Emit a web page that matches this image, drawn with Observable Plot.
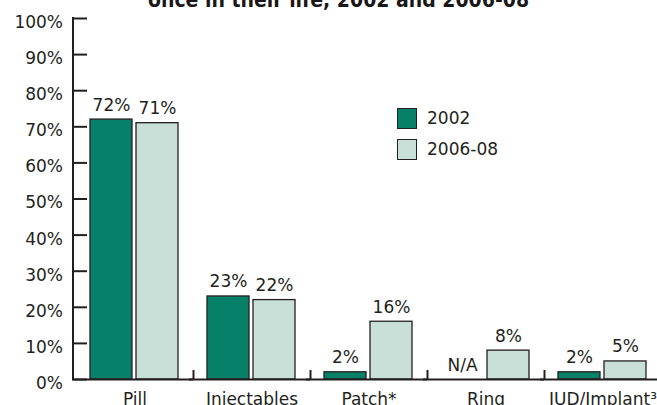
<!DOCTYPE html>
<html>
<head>
<meta charset="utf-8">
<script src="https://cdn.jsdelivr.net/npm/d3@7"></script>
<script src="https://cdn.jsdelivr.net/npm/@observablehq/plot@0.6"></script>
<style>
  html, body { margin: 0; padding: 0; background: #fff; }
  #wrap { position: relative; width: 657px; height: 405px; overflow: hidden; font-family: "DejaVu Sans", sans-serif; color: #231f20; }
  #title { position: absolute; left: 0; width: 677px; top: -10px; text-align: center; font-family: "DejaVu Sans Condensed", "DejaVu Sans", sans-serif; font-stretch: condensed; font-weight: bold; font-size: 21px; line-height: 21px; white-space: nowrap; color: #1a1718; z-index: 2; }
  #chart { position: absolute; left: 0; top: 0; }
  #legend { position: absolute; left: 397px; top: 108px; font-size: 17px; }
  #legend .item { display: flex; align-items: center; height: 20px; margin-bottom: 11px; }
  #legend .sw { width: 18px; height: 19px; border: 1px solid #231f20; margin-right: 10px; box-sizing: content-box; }
</style>
</head>
<body>
<div id="wrap">
  <div id="title">once in their life, 2002 and 2006-08</div>
  <div id="chart"></div>
  <div id="legend"></div>
</div>
<script>
// Contraceptive methods, share of women who ever used each one
const categories = ["Pill", "Injectables", "Patch*", "Ring", "IUD/Implant³"];
const series = ["2002", "2006-08"];
const values2002 = [72, 23, 2, null, 2];
const values2006 = [71, 22, 16, 8, 5];
const labels2002 = ["72%", "23%", "2%", "N/A", "2%"];
const labels2006 = ["71%", "22%", "16%", "8%", "5%"];
const yTicks = [0, 10, 20, 30, 40, 50, 60, 70, 80, 90, 100];
const yTickLabels = ["0%", "10%", "20%", "30%", "40%", "50%", "60%", "70%", "80%", "90%", "100%"];
const seriesColors = ["#07806a", "#c9e0d8"];

const ink = "#231f20";
const width = 657, height = 405;
const marginLeft = 76, marginRight = -4;
const step = (width - marginLeft - marginRight) / categories.length;

const rows = [];
categories.forEach((c, i) => {
  rows.push({category: c, series: series[0], value: values2002[i], label: labels2002[i]});
  rows.push({category: c, series: series[1], value: values2006[i], label: labels2006[i]});
});

const chart = Plot.plot({
  width, height,
  marginLeft, marginRight,
  marginTop: 18, marginBottom: 26,
  style: {fontFamily: "DejaVu Sans, sans-serif", fontSize: "17px", color: ink, background: "transparent"},
  fx: {domain: categories, padding: 0, label: null, axis: null},
  x: {domain: series, paddingInner: 0.085, paddingOuter: 0.29, axis: null},
  y: {domain: [0, 100], axis: null, label: null},
  color: {domain: series, range: seriesColors},
  marks: [
    // y axis: ticks pointing into the plot, labels to the left
    Plot.axisY({ticks: yTicks, text: null, label: null, tickSize: -14.5, dx: -3.5, strokeWidth: 2, stroke: ink}),
    Plot.axisY({ticks: yTicks, tickFormat: (d, i) => yTickLabels[i], label: null, tickSize: 0, tickPadding: 13.5, dy: 4, fontSize: 17, fill: ink}),
    Plot.ruleX(categories.slice(0, 1), {fx: d => d, x: null, y1: 0, y2: 100, dx: -step / 2 - 3.5, stroke: ink, strokeWidth: 2, strokeLinecap: "square"}),
    // category axis: labels centred, short ticks between groups
    Plot.axisFx({anchor: "bottom", ticks: categories.slice(1), text: null, label: null, tickSize: -9, dx: -step / 2, strokeWidth: 2, stroke: ink}),
    Plot.axisFx({anchor: "bottom", tickSize: 0, tickPadding: 13, fontSize: 17, fill: ink, label: null}),
    Plot.barY(rows, {fx: "category", x: "series", y: "value", fill: "series", stroke: ink, strokeWidth: 1.3}),
    Plot.ruleY([0], {stroke: ink, strokeWidth: 2.2, insetLeft: -4}),
    Plot.text(rows, {fx: "category", x: "series", y: d => d.value ?? 0, text: "label", dy: -9, lineAnchor: "bottom", fontSize: 17, fill: ink})
  ]
});
document.getElementById("chart").append(chart);

// Legend built from the chart's colour scale
const colorScale = chart.scale("color");
const legend = document.getElementById("legend");
colorScale.domain.forEach((name, i) => {
  const item = document.createElement("div");
  item.className = "item";
  const sw = document.createElement("span");
  sw.className = "sw";
  sw.style.background = colorScale.range[i];
  const label = document.createElement("span");
  label.textContent = name;
  item.append(sw, label);
  legend.append(item);
});
</script>
</body>
</html>
